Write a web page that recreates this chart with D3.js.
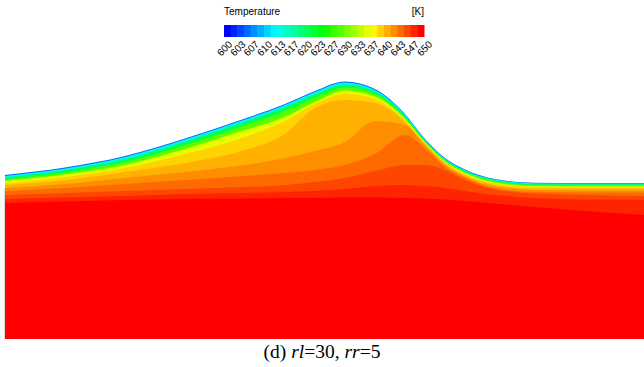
<!DOCTYPE html>
<html>
<head>
<meta charset="utf-8">
<script src="https://cdn.jsdelivr.net/npm/d3@7"></script>
<style>
  body { margin: 0; background: #fff; }
  svg { display: block; }
</style>
</head>
<body>
<div id="chart"></div>
<script>
// sample positions along the track (um)
const xs = [0, 60, 120, 180, 240, 280, 310, 340, 370, 400, 420, 440, 460, 490, 530, 580, 639];

// free surface height (um)
const surface = [163, 170.5, 182, 199.5, 219.5, 234, 247, 256.5, 249, 224, 199, 180, 168.5, 159, 155.2, 155, 155];

// band temperature (K) painted under each isotherm, coldest first
const bandTemps = [605.8, 612.5, 620.8, 629.2, 635.8, 639.2, 640.8, 642.5, 644.2, 645.8, 647.5, 649.2];

// isotherm heights (um), one row per band after the surface one
const iso1  = [162, 169.5, 181, 198.5, 218.5, 233, 246, 255.5, 248, 223.2, 198.3, 179.3, 167.8, 158.4, 154.7, 154.5, 154.5];
const iso2  = [160.5, 168, 179, 196.5, 216.5, 231, 244, 253.5, 246.5, 222, 197.5, 178.5, 167, 157.7, 154, 153.8, 153.8];
const iso3  = [158.5, 165.5, 176, 193, 213, 227, 240.5, 250.5, 244, 220.5, 196.5, 177.5, 166, 156.7, 153, 152.8, 152.8];
const iso4  = [157, 163.5, 173, 189, 208, 221, 236, 247.5, 241.5, 219, 195.5, 176.5, 165, 155.5, 152, 151.8, 151.8];
const iso5  = [155, 161, 170, 184, 201, 217, 234, 244, 239, 217.5, 194.5, 175.5, 163.8, 154.2, 151, 150.8, 150.8];
const iso6  = [153, 158, 166, 175, 188, 204, 230, 238, 235, 216, 193.5, 174.5, 162.5, 153, 149.5, 149.5, 149.5];
const iso7  = [150, 154, 160, 166, 173, 180, 187, 196, 217, 213, 192.5, 173, 161, 151.5, 148, 147.5, 147.5];
const iso8  = [147, 150, 154, 158, 162, 165, 168, 173, 184, 203, 190, 171, 160.5, 149.5, 146, 145.5, 145.5];
const iso9  = [143, 145, 147, 149, 151, 153, 156, 160, 167, 173, 173, 168, 158, 148.5, 144.5, 143, 142];
const iso10 = [139, 140.5, 142, 144, 145, 146, 147, 149, 152, 153, 152, 150, 147, 143, 140, 138.5, 138];
const iso11 = [135, 136.5, 138, 139, 139.5, 140, 140, 140.5, 140.5, 140, 139.5, 138.5, 137, 134.5, 131, 127, 123];

const tickLabels = ["600", "603", "607", "610", "613", "617", "620", "623", "627", "630", "633", "637", "640", "643", "647", "650"];
const nBands = 30;

const width = 644, height = 367;

const svg = d3.select("#chart").append("svg")
  .attr("width", width)
  .attr("height", height);

const x = d3.scaleLinear().domain([0, 640]).range([5, 645]);
const y = d3.scaleLinear().domain([0, 257]).range([338, 81]);

const bandColors = d3.range(nBands).map(i => d3.hsl(240 * (1 - i / (nBands - 1)), 1, 0.5).formatHex());
const color = d3.scaleQuantize().domain([600, 650]).range(bandColors);

const profiles = [surface, iso1, iso2, iso3, iso4, iso5, iso6, iso7, iso8, iso9, iso10, iso11];

const area = d3.area()
  .curve(d3.curveMonotoneX)
  .x(d => x(d[0]))
  .y0(y(-1))
  .y1(d => y(d[1]));

// paint bands coldest to hottest, each from its isotherm down to the bottom
svg.append("g")
  .selectAll("path")
  .data(profiles)
  .join("path")
  .attr("fill", (d, i) => color(bandTemps[i]))
  .attr("d", d => area(d3.zip(xs, d)));

// left boundary of the domain
svg.append("line")
  .attr("x1", 4.5).attr("x2", 4.5)
  .attr("y1", y(150)).attr("y2", y(-1))
  .attr("stroke", "#dcdcdc");

// colour bar
const barX = 224, barW = 200, barY = 25, barH = 12;
const legend = svg.append("g");

legend.selectAll("rect")
  .data(bandColors)
  .join("rect")
  .attr("x", (d, i) => barX + i * barW / nBands)
  .attr("y", barY)
  .attr("width", barW / nBands + 0.5)
  .attr("height", barH)
  .attr("fill", d => d);

legend.append("text")
  .attr("x", barX)
  .attr("y", 15)
  .attr("font-family", "Liberation Sans, Arial, sans-serif")
  .attr("font-size", 10)
  .text("Temperature");

legend.append("text")
  .attr("x", barX + barW)
  .attr("y", 15)
  .attr("text-anchor", "end")
  .attr("font-family", "Liberation Sans, Arial, sans-serif")
  .attr("font-size", 10)
  .text("[K]");

const tx = d3.scalePoint().domain(tickLabels).range([barX, barX + barW]);

legend.selectAll("text.tick")
  .data(tickLabels)
  .join("text")
  .attr("class", "tick")
  .attr("transform", d => `translate(${tx(d) + 4},${barY + barH + 3}) rotate(-45)`)
  .attr("text-anchor", "end")
  .attr("dy", "0.7em")
  .attr("font-family", "Liberation Sans, Arial, sans-serif")
  .attr("font-size", 10)
  .text(d => d);

// caption
const cap = svg.append("text")
  .attr("x", 322)
  .attr("y", 358)
  .attr("text-anchor", "middle")
  .attr("font-family", "Liberation Serif, Times New Roman, serif")
  .attr("font-size", 19.5);
cap.append("tspan").text("(d) ");
cap.append("tspan").attr("font-style", "italic").text("rl");
cap.append("tspan").text("=30, ");
cap.append("tspan").attr("font-style", "italic").text("rr");
cap.append("tspan").text("=5");
</script>
</body>
</html>
